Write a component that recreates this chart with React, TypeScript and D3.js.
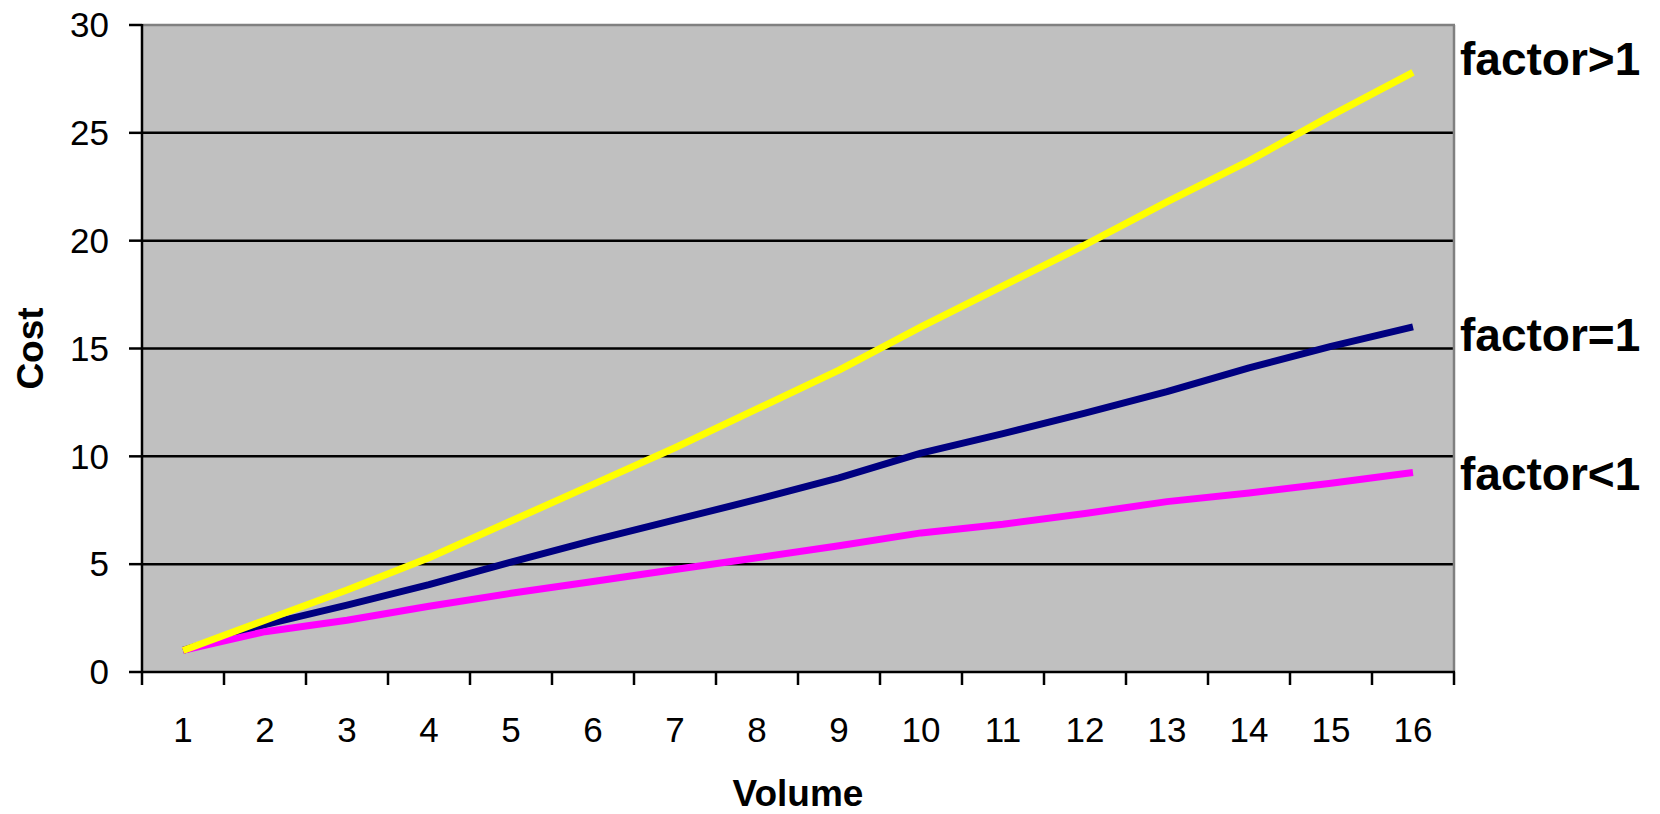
import React from "react";
import * as d3 from "d3";

const categories = ["1","2","3","4","5","6","7","8","9","10","11","12","13","14","15","16"];
const factorGreater = [1, 2.4, 3.8, 5.3, 7.0, 8.7, 10.4, 12.2, 14.0, 16.0, 17.9, 19.8, 21.8, 23.7, 25.8, 27.8];
const factorEqual = [1, 2.2, 3.1, 4.05, 5.1, 6.1, 7.05, 8.0, 9.0, 10.15, 11.05, 12.0, 13.0, 14.1, 15.1, 16.0];
const factorLess = [1, 1.87, 2.4, 3.05, 3.65, 4.2, 4.75, 5.3, 5.85, 6.45, 6.85, 7.35, 7.9, 8.3, 8.75, 9.25];
const yTicks = [0, 5, 10, 15, 20, 25, 30];
const seriesNames = ["factor>1", "factor=1", "factor<1"];
const xTitle = "Volume";
const yTitle = "Cost";

const W = 1660, H = 814;
const L = 142, R = 1454, T = 25, B = 672;
const FONT = "'Liberation Sans', Arial, sans-serif";

export default function App() {
  const x = d3.scaleBand<string>().domain(categories).range([L, R]).padding(0);
  const y = d3.scaleLinear().domain([0, 30]).range([B, T]);
  const cx = (c: string) => (x(c) as number) + x.bandwidth() / 2;
  const line = d3
    .line<number>()
    .x((_, i) => cx(categories[i]))
    .y((d) => y(d));

  const series = [
    { name: seriesNames[1], values: factorEqual, color: "#000080" },
    { name: seriesNames[2], values: factorLess, color: "#FF00FF" },
    { name: seriesNames[0], values: factorGreater, color: "#FFFF00" },
  ];
  const labelPos = [
    { text: seriesNames[0], y: 75 },
    { text: seriesNames[1], y: 351 },
    { text: seriesNames[2], y: 490 },
  ];
  const bounds = categories.map((c) => x(c) as number).concat([R]);

  return (
    <svg
      width={W}
      height={H}
      style={{ position: "absolute", left: 0, top: 0, background: "#fff" }}
      fontFamily={FONT}
    >
      <rect x={L} y={T} width={R - L} height={B - T} fill="#C0C0C0" />
      {yTicks.filter((t) => t > 0 && t < 30).map((t) => (
        <line key={t} x1={L} x2={R} y1={y(t)} y2={y(t)} stroke="#000" strokeWidth={2.5} />
      ))}
      <line x1={L} x2={R + 1} y1={T} y2={T} stroke="#808080" strokeWidth={2.5} />
      <line x1={R} x2={R} y1={T} y2={B} stroke="#808080" strokeWidth={2.5} />
      {series.map((s) => (
        <path
          key={s.name}
          d={line(s.values) as string}
          fill="none"
          stroke={s.color}
          strokeWidth={7}
          strokeLinejoin="round"
          strokeLinecap="butt"
        />
      ))}
      <line x1={L} x2={L} y1={T - 1} y2={B + 1} stroke="#000" strokeWidth={2.5} />
      <line x1={L - 1} x2={R + 1} y1={B} y2={B} stroke="#000" strokeWidth={2.5} />
      {yTicks.map((t) => (
        <g key={"yt" + t}>
          <line x1={L - 13} x2={L} y1={y(t)} y2={y(t)} stroke="#000" strokeWidth={2.5} />
          <text x={109} y={y(t)} dy="0.35em" textAnchor="end" fontSize={35} fill="#000">
            {t}
          </text>
        </g>
      ))}
      {bounds.map((b, i) => (
        <line key={"xt" + i} x1={b} x2={b} y1={B} y2={B + 13} stroke="#000" strokeWidth={2.5} />
      ))}
      {categories.map((c) => (
        <text key={"xl" + c} x={cx(c)} y={742} textAnchor="middle" fontSize={35} fill="#000">
          {c}
        </text>
      ))}
      <text x={(L + R) / 2} y={806} textAnchor="middle" fontSize={37} fontWeight="bold" fill="#000">
        {xTitle}
      </text>
      <text
        transform={`translate(43, ${(T + B) / 2}) rotate(-90)`}
        textAnchor="middle"
        fontSize={37}
        fontWeight="bold"
        fill="#000"
      >
        {yTitle}
      </text>
      {labelPos.map((l) => (
        <text key={l.text} x={1460} y={l.y} fontSize={46} fontWeight="bold" fill="#000">
          {l.text}
        </text>
      ))}
    </svg>
  );
}
